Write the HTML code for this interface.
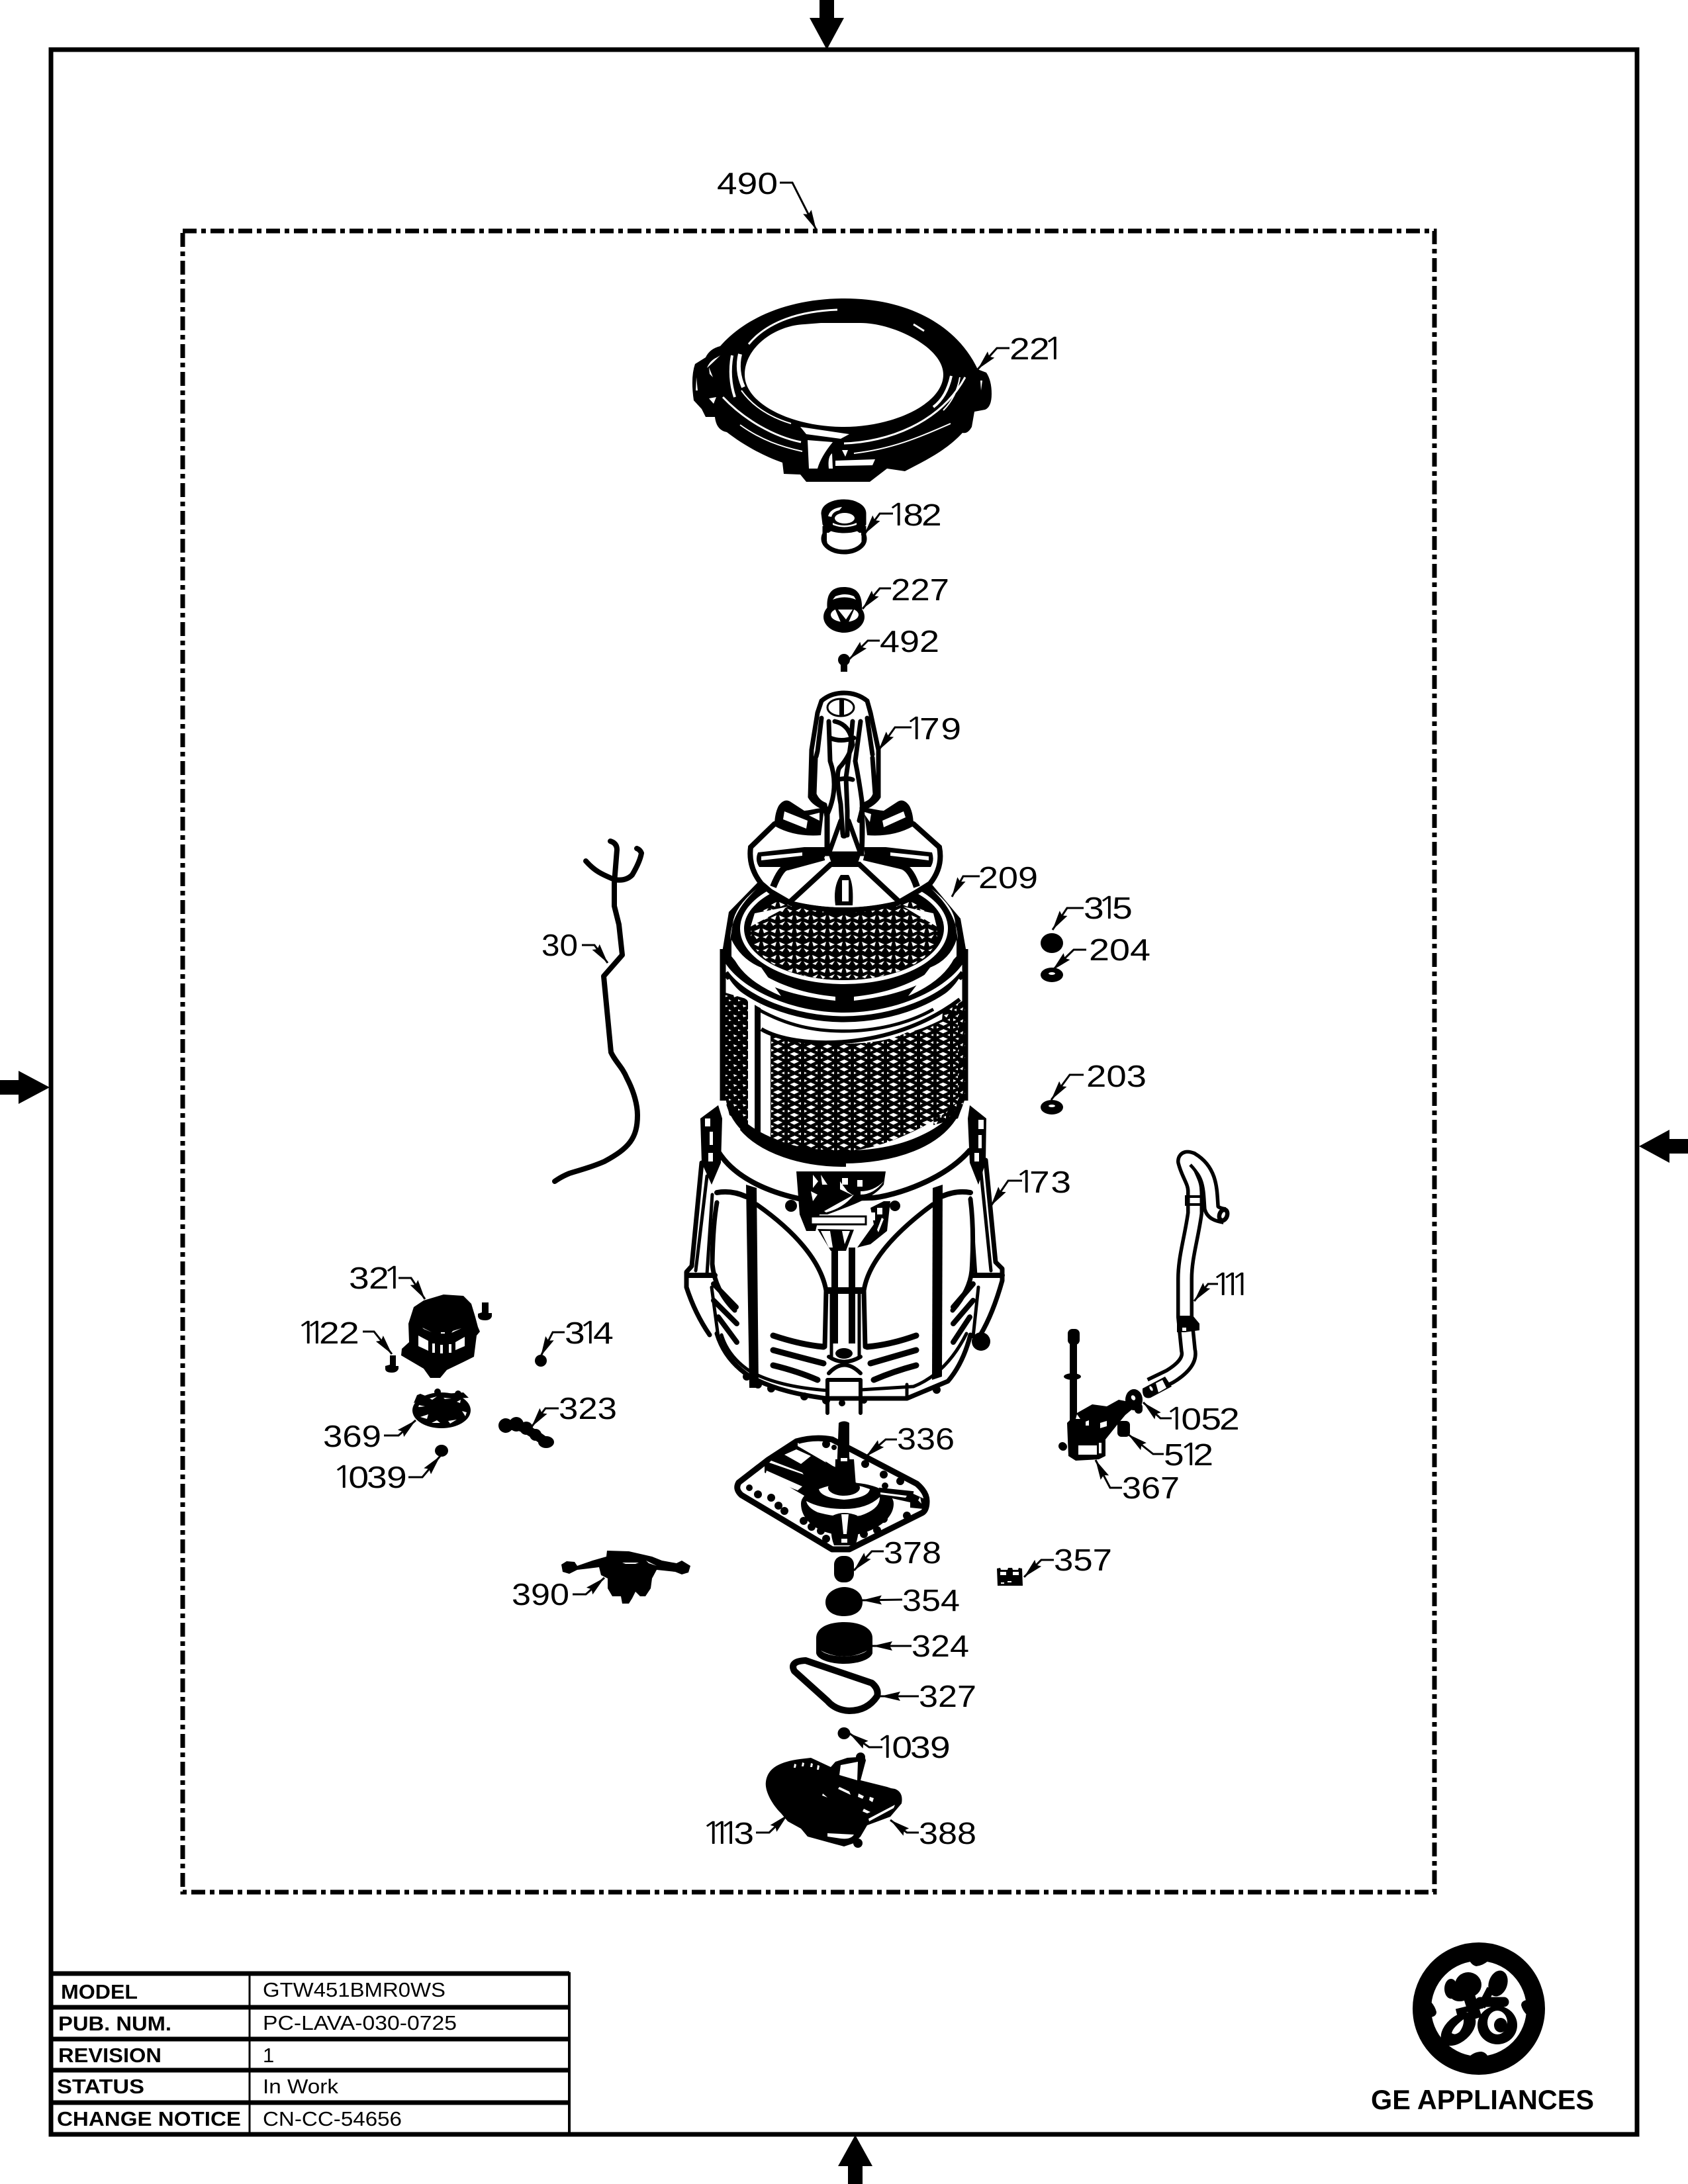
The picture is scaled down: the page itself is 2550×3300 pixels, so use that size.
<!DOCTYPE html>
<html><head><meta charset="utf-8"><style>
html,body{margin:0;padding:0;background:#fff}
svg{display:block}
.l{font-family:"Liberation Sans",sans-serif;font-size:46px;fill:#000}
.o{font-family:"NanumGothic","Liberation Sans",sans-serif}
.b{font-family:"Liberation Sans",sans-serif;font-size:31px;font-weight:bold;fill:#000}
.v{font-family:"Liberation Sans",sans-serif;font-size:31px;fill:#000}
.ld{fill:none;stroke:#000;stroke-width:3;marker-end:url(#ah)}
.s{fill:none;stroke:#000;stroke-linecap:round;stroke-linejoin:round}
</style></head><body>
<svg xmlns="http://www.w3.org/2000/svg" width="2550" height="3300" viewBox="0 0 2550 3300">
<defs>
<marker id="ah" markerUnits="userSpaceOnUse" markerWidth="34" markerHeight="18" refX="30" refY="9" orient="auto">
<path d="M0,2 L30,9 L0,16 L4,9 z" fill="#000"/></marker>
<pattern id="mf" width="25" height="23" patternUnits="userSpaceOnUse">
<rect width="25" height="23" fill="#fff"/>
<path d="M12.5,0V23" stroke="#000" stroke-width="5"/>
<path d="M0,0C9,4 16,7 25,11.5C16,15 9,19 0,23" fill="none" stroke="#000" stroke-width="5"/>
<path d="M25,0C16,4 9,7 0,11.5C9,15 16,19 25,23" fill="none" stroke="#000" stroke-width="4.5"/>
</pattern>
<pattern id="mt" width="25" height="20" patternUnits="userSpaceOnUse">
<rect width="25" height="20" fill="#000"/>
<path d="M2,3L11,7L4,10z M23,3L14,7L21,10z M2,16L11,12L7,18z M22,16L14,13L18,19z" fill="#fff"/>
</pattern>
<pattern id="ms" width="14" height="15" patternUnits="userSpaceOnUse">
<rect width="14" height="15" fill="#000"/>
<path d="M2,3L8,5L3,7z M9,10L13,12L9,13z" fill="#fff"/>
</pattern>
<pattern id="mr" width="16" height="18" patternUnits="userSpaceOnUse">
<rect width="16" height="18" fill="#000"/>
<path d="M2,4L9,2L6,8z M10,13L15,10L14,15z M1,14L5,12L5,16z" fill="#fff"/>
</pattern>
</defs>

<!-- frame -->
<rect x="77" y="75" width="2396" height="3150" fill="none" stroke="#000" stroke-width="7"/>
<path d="M1238,0H1260V27H1275L1249,75L1223,27H1238z"/>
<path d="M1281,3300H1303V3273H1318L1292,3226L1266,3273H1281z"/>
<path d="M0,1632H28V1618L75,1643L28,1668V1654H0z"/>
<path d="M2550,1721H2522V1707L2476,1732L2522,1757V1743H2550z"/>

<!-- dash-dot region -->
<rect x="276" y="349" width="1891" height="2510" fill="none" stroke="#000" stroke-width="7" stroke-dasharray="21 7 7 7"/>

<!-- 221 ring -->
<path d="M1088,523C1130,475 1200,451 1276,451C1370,451 1445,490 1477,558L1490,563Q1498,575 1498,595Q1498,615 1488,619L1472,622L1468,645Q1462,656 1454,654C1430,680 1400,695 1367,712L1340,708L1314,728H1218L1209,717L1184,716L1182,699C1150,688 1120,670 1098,653Q1082,650 1080,630L1066,630L1060,618L1048,605Q1043,570 1050,550L1066,540Q1072,527 1088,523z"/>
<path d="M1125,566C1125,525 1170,492 1215,490L1240,488H1300C1350,488 1425,525 1425,566C1425,610 1350,645 1275,645C1195,645 1125,610 1125,566z" fill="#fff"/>
<g fill="none" stroke="#fff" stroke-width="3">
<path d="M1131,520C1160,485 1210,470 1265,468"/>
<path d="M1380,490L1396,500"/>
<path d="M1106,537Q1100,570 1110,600" stroke-width="4"/>
<path d="M1118,535Q1112,560 1123,585" stroke-width="6"/>
<path d="M1437,568Q1430,600 1410,615" stroke-width="4"/>
<path d="M1450,570Q1445,600 1425,620" stroke-width="2"/>
<path d="M1092,600C1125,635 1170,660 1210,668" stroke-width="3"/>
<path d="M1118,642C1150,665 1180,675 1212,682" stroke-width="2"/>
<path d="M1275,670C1340,668 1420,640 1458,570" stroke-width="3"/>
<path d="M1290,685C1350,678 1390,660 1436,640" stroke-width="2"/>
<path d="M1120,590Q1145,625 1195,640" stroke-width="2"/>
</g>
<path d="M1209,645L1283,656L1270,663L1218,656z" fill="#fff"/>
<path d="M1220,665L1258,668Q1240,690 1235,708H1222z" fill="#fff"/>
<path d="M1262,696L1322,694L1318,703L1262,704z" fill="#fff"/>
<path d="M1272,680H1281L1277,690z" fill="#fff"/>
<path d="M1252,708Q1250,690 1257,685L1258,708z" fill="#fff"/>
<path d="M1071,555L1077,570L1072,565z M1052,570L1054,590L1051,590z M1078,610L1071,602L1082,600z M1083,540Q1072,545 1068,556Q1077,548 1088,537z M1481,575L1484,575L1482,590z" fill="#fff"/>

<!-- 182 -->
<ellipse cx="1275" cy="814" rx="31" ry="20" fill="#fff" stroke="#000" stroke-width="7"/>
<path d="M1246,795V820M1305,795V820" stroke="#000" stroke-width="7"/>
<path d="M1249,805H1301V818H1249z" fill="#fff"/>
<path d="M1242,776C1242,762 1260,756 1275,756C1292,756 1307,764 1307,776V792C1300,808 1250,808 1244,792z" stroke="#000" stroke-width="3"/>
<path d="M1251,780Q1254,768 1272,766L1268,771Q1258,773 1256,781z" fill="#fff"/>
<ellipse cx="1276" cy="783" rx="15" ry="8" fill="#fff"/>
<path d="M1258,790Q1275,798 1294,790L1294,793Q1275,800 1258,793z" fill="#fff"/>

<!-- 227 -->
<ellipse cx="1275" cy="932" rx="31" ry="24" fill="#000"/>
<path d="M1250,925C1248,905 1250,887 1275,887C1300,887 1303,905 1302,925z"/>
<ellipse cx="1276" cy="929" rx="21" ry="11" fill="#fff"/>
<path d="M1262,901Q1277,895 1290,901L1293,906Q1276,899 1258,906z" fill="#fff"/>
<path d="M1258,912L1294,912L1282,940H1270z" fill="#000"/>
<path d="M1266,921H1288L1278,936z" fill="#fff"/>
<!-- 492 -->
<circle cx="1275" cy="997" r="9"/><rect x="1270" y="1000" width="10" height="15"/>

<!-- 30 hose -->
<g class="s" stroke-width="8">
<path d="M922,1271Q932,1274 932,1284L928,1334V1369L935,1397L940,1443L912,1475L923,1590C930,1605 940,1612 947,1629C958,1650 963,1670 963,1685C963,1720 950,1735 913,1755C890,1765 875,1768 860,1773Q848,1778 838,1785"/>
<path d="M885,1301C900,1318 912,1322 928,1329Q945,1332 955,1322C965,1305 968,1295 969,1289Q967,1284 962,1282"/>
</g>

<!-- 173 basket -->
<g class="s" stroke-width="7">
<path d="M1060,1757L1045,1913L1037,1922V1945Q1050,1985 1072,2017"/>
<path d="M1489,1753L1504,1907L1514,1917V1935Q1500,1985 1481,2017"/>
<path d="M1083,2015Q1095,2055 1133,2080C1170,2100 1210,2108 1248,2113H1370L1432,2087Q1455,2060 1466,2017"/>
<path d="M1090,2017Q1100,2050 1133,2072C1165,2090 1210,2098 1250,2101M1300,2100L1380,2095Q1430,2075 1460,2015" stroke-width="5"/>
<path d="M1068,1777L1051,1920" stroke-width="5"/>
<path d="M1076,1805L1068,1925" stroke-width="5"/>
<path d="M1083,1817Q1077,1850 1076,1910Q1080,1950 1110,1980"/>
<path d="M1481,1763L1497,1920" stroke-width="5"/>
<path d="M1466,1810L1474,1927" stroke-width="5"/>
<path d="M1466,1812Q1472,1860 1468,1920Q1465,1950 1439,1980"/>
<path d="M1083,1802Q1105,1798 1127,1808M1466,1802Q1445,1798 1422,1808" stroke-width="8"/>
<path d="M1040,1927H1080M1514,1927H1470" stroke-width="8"/>
<path d="M1075,1945L1085,2020M1478,1945L1470,2020" stroke-width="5"/>
<path d="M1078,1940L1112,1975M1078,1965L1113,2000M1085,1990L1113,2028M1470,1940L1440,1975M1470,1965L1440,2000M1465,1990L1440,2028" stroke-width="8"/>
</g>
<path d="M1058,1690L1085,1670L1091,1690L1089,1757L1075,1790L1060,1757z"/>
<path d="M1065,1690h8v12h-8z M1070,1742h7v13h-7z M1072,1710h5v20h-5z" fill="#fff"/>
<path d="M1490,1690L1465,1670L1462,1690L1465,1757L1478,1790L1489,1757z"/>
<path d="M1478,1692h8v14h-8z M1472,1742h7v13h-7z M1478,1715h5v20h-5z" fill="#fff"/>
<path d="M1085,1740C1110,1780 1160,1800 1202,1810Q1220,1815 1236,1812L1315,1810C1335,1810 1420,1790 1466,1737" fill="none" stroke="#000" stroke-width="8"/>
<path d="M1127,1790L1143,1795L1146,2097H1132z"/>
<path d="M1409,1795L1424,1790L1423,2080L1408,2085z"/>
<g class="s" stroke-width="7">
<path d="M1143,1820C1200,1860 1240,1905 1248,1950L1246,2035"/>
<path d="M1409,1820C1355,1860 1312,1905 1305,1950L1307,2035"/>
<path d="M1256,1950V2050M1298,1950V2050" stroke-width="5"/>
<path d="M1261,1885V2030M1287,1885V2030" stroke-width="10" stroke-linecap="butt"/>
<path d="M1250,1950H1303" stroke-width="10" stroke-linecap="butt"/>
<path d="M1168,2018Q1210,2032 1244,2035M1168,2040Q1205,2050 1244,2060M1168,2063Q1205,2072 1235,2085" stroke-width="9"/>
<path d="M1384,2018Q1345,2032 1310,2035M1384,2040Q1350,2050 1315,2060M1384,2063Q1350,2072 1320,2085" stroke-width="9"/>
<path d="M1250,2085H1300V2135M1250,2085V2135M1252,2050Q1275,2065 1300,2050M1252,2075Q1275,2050 1300,2075" stroke-width="6"/>
<path d="M1370,2092V2110" stroke-width="5"/>
</g>
<path d="M1262,2045a13,8 0 1,0 26,0a13,8 0 1,0 -26,0z"/>
<path d="M1203,1770H1338L1335,1790C1320,1810 1290,1820 1250,1835H1238L1232,1860H1218L1208,1835z"/>
<path d="M1225,1838H1308V1850H1225z" fill="#fff" stroke="#000" stroke-width="3"/>
<path d="M1235,1857L1290,1858L1278,1890H1255z" fill="#000"/>
<path d="M1240,1860L1252,1885H1258L1254,1860z M1272,1860H1284L1276,1880z" fill="#fff"/>
<path d="M1228,1775L1236,1785L1228,1795z M1225,1800L1235,1805L1228,1815z M1240,1775L1250,1790L1242,1790z M1269,1785L1280,1800L1290,1807L1269,1797z M1272,1780h9v10h-9z M1295,1783h8v10h-8z M1300,1800Q1320,1800 1335,1785Q1320,1805 1300,1805z M1245,1830L1290,1805Q1275,1825 1248,1832z" fill="#fff"/>
<path d="M1315,1825L1335,1815L1345,1815L1340,1860L1315,1880L1295,1885L1320,1850z"/>
<path d="M1325,1825h8v10h-8z M1316,1832h6v12h-6z M1325,1858L1332,1840L1335,1842L1327,1862z" fill="#fff"/>
<circle cx="1195" cy="1822" r="9"/><circle cx="1352" cy="1822" r="8"/>
<circle cx="1482" cy="2027" r="14"/>
<g fill="#000"><circle cx="1128" cy="2080" r="6"/><circle cx="1145" cy="2092" r="6"/><circle cx="1165" cy="2098" r="6"/><circle cx="1215" cy="2110" r="6"/><circle cx="1248" cy="2116" r="6"/><circle cx="1305" cy="2116" r="5"/><circle cx="1272" cy="2120" r="5"/><circle cx="1415" cy="2100" r="6"/></g>

<!-- tub -->
<path d="M1092,1440C1120,1460 1430,1460 1458,1440V1663Q1440,1750 1275,1760Q1110,1750 1092,1663z" fill="#fff"/>
<path d="M1092,1434V1663" stroke="#000" stroke-width="9"/>
<path d="M1458,1434V1663" stroke="#000" stroke-width="9"/>
<path d="M1096,1500L1130,1510V1700L1102,1685L1096,1660z" fill="url(#ms)"/>
<path d="M1424,1530L1458,1510V1660L1447,1690L1410,1700z" fill="url(#mr)"/>
<path d="M1164,1561C1220,1580 1320,1585 1370,1560C1400,1555 1430,1535 1447,1530V1665C1420,1695 1330,1740 1270,1740C1220,1740 1180,1730 1164,1719z" fill="url(#mf)"/>
<path d="M1144.5,1518V1716" stroke="#000" stroke-width="9"/>
<path d="M1150,1555C1200,1585 1345,1590 1450,1510" fill="none" stroke="#000" stroke-width="6"/>
<path d="M1100,1668C1120,1735 1210,1755 1275,1755C1340,1755 1430,1735 1452,1668C1430,1715 1340,1745 1275,1745C1210,1745 1120,1715 1100,1668z M1120,1705C1170,1745 1230,1750 1275,1750L1275,1760C1210,1760 1150,1740 1120,1705z" stroke="#000" stroke-width="6"/>
<path d="M1145,1715C1190,1735 1230,1741 1275,1741C1320,1741 1370,1733 1412,1708" fill="none" stroke="#000" stroke-width="5"/>

<!-- tub top rim -->
<path d="M1090,1445L1101,1378L1145,1333L1405,1333L1451,1388L1461,1445C1440,1490 1360,1530 1275,1530C1190,1530 1110,1490 1090,1445z" fill="#000"/>
<path d="M1096,1470C1125,1510 1200,1540 1275,1540C1350,1540 1425,1510 1455,1470" fill="none" stroke="#000" stroke-width="9"/>
<path d="M1100,1480C1125,1520 1200,1550 1275,1550C1350,1550 1425,1520 1450,1480" fill="none" stroke="#fff" stroke-width="4"/>
<path d="M1145,1525C1190,1550 1230,1558 1275,1558C1320,1558 1370,1548 1410,1525" fill="none" stroke="#000" stroke-width="5"/>
<path d="M1103,1420C1104,1385 1125,1360 1143,1343Q1110,1370 1107,1395z" fill="#fff"/>
<path d="M1447,1420C1446,1385 1425,1360 1407,1343Q1442,1370 1443,1395z" fill="#fff"/>
<path d="M1105,1440Q1120,1480 1180,1505L1150,1462Q1120,1450 1105,1420z" fill="#fff"/>
<path d="M1445,1440Q1430,1480 1372,1505L1405,1462Q1435,1450 1445,1420z" fill="#fff"/>
<path d="M1105,1445C1140,1490 1200,1505 1262,1512L1262,1506C1200,1500 1150,1480 1105,1435z" fill="#fff"/>
<path d="M1290,1512C1350,1505 1405,1490 1445,1445L1445,1435C1400,1480 1350,1500 1290,1506z" fill="#fff"/>
<ellipse cx="1275" cy="1403" rx="157" ry="84" fill="#fff"/>
<ellipse cx="1275" cy="1403" rx="151" ry="78" fill="#000"/>
<ellipse cx="1275" cy="1411" rx="141" ry="70" fill="url(#mt)"/>
<path d="M1134,1400L1190,1370L1140,1380z M1415,1400L1365,1370L1410,1380z" fill="#fff"/>

<!-- disk & agitator -->
<path d="M1170,1245L1134,1280Q1130,1310 1150,1335L1164,1347L1195,1365Q1275,1385 1355,1365L1386,1347L1405,1335Q1425,1310 1419,1280L1380,1245Q1275,1200 1170,1245z" fill="#fff" stroke="#000" stroke-width="8"/>
<path d="M1199,1362L1258,1310H1294L1352,1362Q1275,1380 1199,1362z" fill="#fff"/>
<path d="M1192,1364L1255,1306H1298L1360,1364" fill="none" stroke="#000" stroke-width="8"/>
<path d="M1270,1322H1282Q1290,1335 1288,1368L1262,1368Q1258,1340 1270,1322z"/>
<rect x="1272" y="1330" width="10" height="32" fill="#fff"/>
<path d="M1176,1218Q1185,1205 1195,1212L1215,1225L1245,1222L1240,1262Q1200,1265 1170,1248Q1170,1230 1176,1218z"/>
<path d="M1374,1218Q1365,1205 1355,1212L1335,1225L1305,1222L1310,1262Q1350,1265 1380,1248Q1380,1230 1374,1218z"/>
<path d="M1185,1226L1220,1240L1218,1252L1183,1238z M1365,1226L1333,1240L1335,1250L1368,1235z M1222,1232L1238,1228V1240z M1316,1230L1303,1226L1314,1242z" fill="#fff"/>
<path d="M1145,1288L1215,1280L1248,1280L1246,1295L1200,1310Q1170,1310 1147,1310Q1140,1300 1145,1288z"/>
<path d="M1408,1288L1338,1280L1305,1280L1307,1295L1350,1310Q1385,1310 1406,1310Q1412,1300 1408,1288z"/>
<path d="M1150,1294L1212,1288V1293L1150,1300z M1403,1294L1345,1288V1293L1403,1300z" fill="#fff"/>
<path d="M1168,1340Q1180,1310 1190,1310L1245,1295M1385,1340Q1375,1310 1360,1308L1305,1295" fill="none" stroke="#000" stroke-width="10"/>
<path d="M1198,1325Q1205,1315 1225,1308L1215,1322z M1355,1325Q1350,1315 1330,1308L1340,1322z" fill="#fff"/>
<path d="M1235,1077L1241,1059Q1255,1047 1275,1047Q1295,1047 1310,1059L1315,1077L1327,1133L1327,1204Q1320,1215 1302,1222L1302,1290H1249L1249,1222Q1230,1215 1224,1204L1226,1133z" fill="#fff" stroke="#000" stroke-width="7"/>
<ellipse cx="1270" cy="1069" rx="20" ry="13" fill="#fff" stroke="#000" stroke-width="3"/>
<path d="M1268,1056h7v26h-7z"/>
<g class="s" stroke-width="7">
<path d="M1241,1085L1235,1135L1233,1143M1310,1085L1318,1140"/>
<path d="M1232,1145L1230,1200Q1235,1212 1246,1216L1250,1240M1318,1145L1322,1200Q1318,1212 1304,1216L1298,1240"/>
<path d="M1252,1090L1254,1150Q1268,1190 1250,1230V1288"/>
<path d="M1300,1090L1292,1150Q1298,1180 1302,1210Q1304,1250 1302,1288"/>
<path d="M1261,1090Q1285,1095 1288,1125Q1282,1145 1268,1160Q1262,1170 1270,1215L1273,1260"/>
<path d="M1288,1090L1285,1125L1278,1175L1280,1225L1280,1262"/>
<path d="M1254,1115Q1270,1122 1290,1115"/>
<path d="M1265,1178Q1280,1175 1288,1178"/>
<path d="M1270,1240L1252,1290M1282,1240L1300,1290"/>
</g>
<ellipse cx="1275" cy="1263" rx="5" ry="4"/>
<path d="M1252,1292H1300L1296,1304H1256z" fill="#000"/>

<!-- washers -->
<ellipse cx="1589" cy="1425" rx="17" ry="15"/>
<ellipse cx="1589" cy="1473" rx="17" ry="11"/><ellipse cx="1589" cy="1471" rx="5" ry="2" fill="#fff"/>
<ellipse cx="1589" cy="1673" rx="17" ry="11"/><ellipse cx="1589" cy="1671" rx="5" ry="2" fill="#fff"/>

<!-- 111 hose -->
<path d="M1850,1837C1838,1835 1832,1832 1830,1825C1828,1800 1830,1770 1800,1752Q1790,1748 1790,1755C1795,1775 1805,1785 1805,1800V1833C1800,1870 1790,1900 1790,1932V1990L1795,2040Q1800,2060 1767,2080L1738,2094" fill="none" stroke="#000" stroke-width="26" stroke-linejoin="round"/>
<path d="M1850,1837C1838,1835 1832,1832 1830,1825C1828,1800 1830,1770 1800,1752Q1790,1748 1790,1755C1795,1775 1805,1785 1805,1800V1833C1800,1870 1790,1900 1790,1932V1990L1795,2040Q1800,2060 1767,2080L1738,2094" fill="none" stroke="#fff" stroke-width="15" stroke-linejoin="round"/>
<path d="M1798,1760C1808,1770 1815,1780 1815,1805L1817,1822" fill="none" stroke="#000" stroke-width="5"/>
<ellipse cx="1848" cy="1836" rx="9" ry="12" transform="rotate(20 1848 1836)"/><ellipse cx="1848" cy="1836" rx="2.5" ry="5" transform="rotate(20 1848 1836)" fill="#fff"/>
<path d="M1792,1808H1816V1820H1792z" fill="none" stroke="#000" stroke-width="4"/>
<path d="M1778,1988H1802L1812,2000L1812,2010L1790,2013H1778z"/>
<path d="M1786,2006h6v5h-6z" fill="#fff"/>
<path d="M1726,2098L1760,2080L1770,2095L1738,2112Q1725,2115 1726,2098z"/>
<path d="M1746,2090L1756,2085L1762,2097L1750,2104z" fill="#fff"/>
<ellipse cx="1739" cy="2098" rx="2" ry="4" fill="#fff" transform="rotate(-30 1739 2098)"/>

<!-- 367 valve -->
<rect x="1616" y="2012" width="11" height="135"/><rect x="1613" y="2008" width="18" height="24" rx="7"/>
<ellipse cx="1620" cy="2080" rx="13" ry="5"/>
<path d="M1612,2150L1627,2135L1650,2122L1672,2125L1690,2115L1705,2118L1712,2128L1700,2138L1690,2150L1670,2175L1670,2200L1660,2205L1625,2207L1614,2200z"/>
<path d="M1629,2184h28v14h-28z M1660,2180h4v16h-4z" fill="#fff"/>
<path d="M1662,2150L1672,2147V2155L1662,2158z M1640,2148L1645,2146V2154H1640z M1627,2137L1632,2144H1625z" fill="#fff"/>
<circle cx="1605" cy="2185" r="6"/><rect x="1600" y="2180" width="12" height="12" rx="6"/>
<rect x="1688" y="2147" width="19" height="24" rx="6"/>
<ellipse cx="1713" cy="2115" rx="13" ry="16"/><ellipse cx="1712" cy="2112" rx="3" ry="4" fill="#fff" transform="rotate(-30 1712 2112)"/>
<rect x="1714" y="2120" width="12" height="16" rx="6"/>

<!-- 321 motor -->
<path d="M617,2000L625,1975L640,1965L670,1956L700,1958L712,1970L718,1990L722,2005L725,2012L720,2018L716,2050L700,2058L675,2070L665,2082H650L640,2068L606,2048L607,2038L618,2028z"/>
<path d="M632,2018L647,2026V2041L632,2034z M688,2028L702,2020V2034L688,2040z M653,2030h4v14h-4z M665,2032h4v13h-4z M678,2031h4v13h-4z M638,2006L652,2013L640,2008z M682,2014L697,2007L684,2011z M666,2013h6v2h-6z" fill="#fff"/>
<path d="M728,1968h10v16h5v5q-2,6 -10,6q-10,0 -11,-6v-4l6,-2z"/>
<path d="M589,2048h9v16h4v4q-2,6 -10,6q-10,0 -10,-6v-4l7,-2z"/>
<circle cx="817" cy="2056" r="9"/>
<!-- 369 -->
<ellipse cx="667" cy="2131" rx="44" ry="27"/>
<path d="M630,2108L635,2106L650,2112L625,2120z"/><circle cx="661" cy="2103" r="5"/><circle cx="692" cy="2106" r="5"/>
<path d="M645,2108L700,2104L708,2112L640,2116z"/>
<path d="M649,2113L660,2110L653,2115z M670,2112L682,2113L672,2114z M690,2118L696,2115L695,2120z M633,2123L642,2125L632,2126z M698,2132L705,2134L703,2140z M635,2141L647,2137L645,2144z M652,2150L665,2150L660,2146z M677,2147L690,2145L680,2151z" fill="#fff"/>
<!-- 1039 ball -->
<ellipse cx="667" cy="2192" rx="10" ry="9"/>
<!-- 323 -->
<path d="M762,2155L780,2153L796,2160L812,2170L826,2180" fill="none" stroke="#000" stroke-width="14" stroke-linecap="round"/>
<g><ellipse cx="764" cy="2154" rx="11" ry="11"/><ellipse cx="780" cy="2152" rx="11" ry="11"/><ellipse cx="795" cy="2158" rx="10" ry="10"/><ellipse cx="809" cy="2168" rx="9" ry="9"/><ellipse cx="825" cy="2179" rx="12" ry="9"/></g>

<!-- 390 -->
<path d="M848,2364L856,2359L868,2360L872,2366L895,2358L916,2352L917,2343L950,2344L985,2352L1000,2358L1022,2362L1030,2358L1043,2366L1040,2376L1030,2379L1020,2375L992,2372L985,2385L983,2400L975,2412L967,2412L960,2405L955,2415L950,2423H940L938,2412L925,2412L918,2400L918,2385L908,2380L905,2368L872,2372L860,2378L850,2375z"/>
<path d="M940,2361H965L960,2363H945z M976,2358L992,2366L980,2362z" fill="#fff"/>

<!-- 357 -->
<path d="M1506,2370l5,-1l1,3h10l1,-3h6l1,3h8l1,-3l5,1l1,26h-38z"/>
<path d="M1511,2375h9v5h-9z M1530,2375h9v5h-9z M1512,2391h5v2h-5z M1522,2389h6v2h-6z" fill="#fff"/>

<!-- 336 gearbox -->
<path d="M1116,2240L1160,2206L1203,2178Q1230,2170 1257,2175L1385,2242Q1400,2255 1400,2268Q1400,2282 1393,2286L1333,2316L1283,2341H1257L1177,2293L1120,2259Q1110,2250 1116,2240z" fill="#fff" stroke="#000" stroke-width="9" stroke-linejoin="round"/>
<path d="M1155,2215L1203,2180L1258,2215L1280,2225L1270,2240L1240,2255L1215,2260L1155,2225z"/>
<path d="M1185,2198L1203,2190L1225,2200L1210,2212z M1165,2207L1212,2225L1214,2228L1162,2210z M1158,2222L1212,2246L1205,2252L1155,2232z M1205,2180L1245,2205L1248,2210L1205,2185z" fill="#fff"/>
<path d="M1210,2272A70,32 0 0 1 1350,2272C1350,2300 1310,2320 1280,2320C1240,2320 1210,2300 1210,2272z"/>
<path d="M1237,2250Q1275,2235 1314,2250Q1312,2263 1275,2266Q1240,2263 1237,2250z M1218,2268Q1240,2280 1275,2280Q1310,2280 1329,2262Q1330,2280 1300,2290Q1270,2295 1235,2285Q1220,2278 1218,2268z" fill="#fff"/>
<ellipse cx="1275" cy="2248" rx="24" ry="12"/>
<path d="M1267,2150Q1275,2145 1283,2150V2200L1287,2250H1263L1265,2200z"/>
<path d="M1262,2205h28l3,40h-32z"/>
<rect x="1270" y="2203" width="10" height="5" fill="#fff"/>
<path d="M1258,2290Q1275,2282 1295,2290Q1300,2315 1292,2335H1260Q1252,2315 1258,2290z"/>
<path d="M1271,2288h11l-3,30h-5z M1271,2325h9v6h-9z" fill="#fff"/>
<path d="M1330,2250L1378,2255L1375,2268L1330,2258z" stroke="#000" stroke-width="4"/>
<path d="M1330,2255L1370,2260L1368,2263L1330,2258z" fill="#fff"/>
<path d="M1375,2255L1397,2265L1395,2280L1375,2278z"/>
<path d="M1390,2262L1392,2272L1387,2267z" fill="#fff"/>
<g fill="#000"><circle cx="1132" cy="2248" r="5"/><circle cx="1145" cy="2258" r="6"/><circle cx="1165" cy="2263" r="6"/><circle cx="1176" cy="2275" r="6"/><circle cx="1185" cy="2283" r="6"/><circle cx="1214" cy="2298" r="6"/><circle cx="1226" cy="2307" r="6"/><circle cx="1240" cy="2313" r="6"/><circle cx="1248" cy="2325" r="6"/>
<circle cx="1248" cy="2182" r="6"/><circle cx="1260" cy="2187" r="4"/><circle cx="1307" cy="2212" r="6"/><circle cx="1335" cy="2228" r="6"/><circle cx="1360" cy="2238" r="6"/><circle cx="1337" cy="2245" r="5"/>
<circle cx="1370" cy="2290" r="6"/><circle cx="1335" cy="2295" r="6"/><circle cx="1325" cy="2312" r="6"/><circle cx="1305" cy="2318" r="6"/></g>

<!-- 378 354 324 -->
<rect x="1260" y="2351" width="30" height="40" rx="13"/>
<path d="M1247,2421C1247,2405 1265,2398 1275,2398C1288,2398 1303,2405 1303,2421C1303,2435 1290,2442 1275,2442C1260,2442 1247,2435 1247,2421z"/>
<path d="M1233,2475C1233,2460 1250,2451 1275,2451C1300,2451 1318,2460 1318,2475V2498C1315,2508 1295,2514 1275,2514C1255,2514 1235,2508 1233,2498z"/>
<path d="M1240,2494Q1275,2512 1310,2494Q1300,2502 1275,2503Q1250,2502 1240,2494z" fill="#fff"/>
<!-- 327 belt -->
<path d="M1200,2525Q1192,2510 1217,2509L1317,2543Q1328,2552 1325,2563Q1310,2585 1283,2585Q1262,2584 1250,2570z" fill="none" stroke="#000" stroke-width="10" stroke-linejoin="round"/>
<!-- 1039 ball -->
<ellipse cx="1275" cy="2619" rx="9.5" ry="9"/>
<!-- 388 / 1113 -->
<path d="M1157,2692C1160,2670 1180,2662 1208,2658L1225,2656L1255,2670L1262,2662L1280,2656L1295,2655L1298,2650H1305L1308,2660L1300,2690L1340,2700L1346,2702L1352,2703Q1365,2708 1362,2725L1345,2745L1310,2758L1300,2775L1290,2785L1275,2790L1260,2786L1220,2775L1210,2763L1190,2752L1180,2740C1165,2725 1155,2705 1157,2692z"/>
<path d="M1270,2667L1296,2662L1295,2690L1268,2682z M1266,2703L1285,2712L1283,2707L1268,2700z M1297,2710L1305,2714L1303,2718L1296,2715z M1314,2715L1320,2717L1318,2723L1313,2720z M1305,2733L1315,2738L1310,2740L1303,2737z M1312,2748L1352,2727L1350,2732L1313,2752z M1250,2770L1290,2772Q1285,2780 1270,2778L1250,2775z M1243,2710L1250,2716L1242,2713z M1200,2665l3,1l-1,5h-3z M1212,2663l3,1l-1,5h-3z M1225,2664l3,1l-1,5h-3z M1235,2667l3,1l-1,6h-3z" fill="#fff"/>
<circle cx="1300" cy="2655" r="7"/><circle cx="1296" cy="2785" r="7"/>
<circle cx="1195" cy="2742" r="6"/>

<!-- leaders -->
<polyline class="ld" points="1178,276 1197,276 1233,347"/>
<polyline class="ld" points="1525,526 1506,526 1477,558"/>
<polyline class="ld" points="1349,776 1329,776 1306,807"/>
<polyline class="ld" points="1346,889 1329,889 1303,920"/>
<polyline class="ld" points="1329,968 1311,968 1283,996"/>
<polyline class="ld" points="1377,1099 1352,1099 1327,1134"/>
<polyline class="ld" points="1480,1324 1455,1324 1438,1355"/>
<polyline class="ld" points="1544,1784 1523,1784 1497,1822"/>
<polyline class="ld" points="1840,1940 1825,1940 1804,1966"/>
<polyline class="ld" points="1770,2143 1753,2143 1727,2119"/>
<polyline class="ld" points="1758,2197 1742,2197 1704,2167"/>
<polyline class="ld" points="1695,2248 1677,2248 1655,2206"/>
<polyline class="ld" points="1592,2357 1573,2357 1547,2383"/>
<polyline class="ld" points="1637,1372 1612,1372 1590,1405"/>
<polyline class="ld" points="1641,1435 1622,1435 1590,1466"/>
<polyline class="ld" points="1637,1624 1616,1624 1588,1662"/>
<polyline class="ld" points="879,1428 898,1428 918,1455"/>
<polyline class="ld" points="602,1931 621,1931 642,1963"/>
<polyline class="ld" points="548,2012 565,2012 592,2046"/>
<polyline class="ld" points="853,2013 835,2013 817,2049"/>
<polyline class="ld" points="844,2128 824,2128 803,2156"/>
<polyline class="ld" points="580,2169 602,2169 628,2146"/>
<polyline class="ld" points="617,2232 638,2232 665,2200"/>
<polyline class="ld" points="865,2409 885,2409 913,2384"/>
<polyline class="ld" points="1355,2175 1338,2175 1308,2201"/>
<polyline class="ld" points="1335,2344 1317,2344 1290,2373"/>
<polyline class="ld" points="1363,2417 1302,2418"/>
<polyline class="ld" points="1377,2487 1318,2487"/>
<polyline class="ld" points="1388,2563 1330,2563"/>
<polyline class="ld" points="1333,2640 1313,2640 1283,2619"/>
<polyline class="ld" points="1142,2769 1162,2769 1190,2742"/>
<polyline class="ld" points="1388,2769 1370,2769 1345,2750"/>

<!-- labels -->
<g class="l">
<text x="1083" y="293" textLength="92" lengthAdjust="spacingAndGlyphs">490</text>
<text transform="translate(1525 543) scale(1.2 1)" x="0 25 42" y="0">22<tspan class="o">1</tspan></text>
<text transform="translate(1350 794) scale(1.2 1)" x="-9 12 35" y="0"><tspan class="o">1</tspan>82</text>
<text x="1346" y="907" textLength="88" lengthAdjust="spacingAndGlyphs">227</text>
<text x="1329" y="985" textLength="90" lengthAdjust="spacingAndGlyphs">492</text>
<text transform="translate(1377 1117) scale(1.2 1)" x="-9 10 37" y="0"><tspan class="o">1</tspan>79</text>
<text x="1478" y="1342" textLength="90" lengthAdjust="spacingAndGlyphs">209</text>
<text transform="translate(1637 1388) scale(1.2 1)" x="0 17 36" y="0">3<tspan class="o">1</tspan>5</text>
<text x="1645" y="1451" textLength="93" lengthAdjust="spacingAndGlyphs">204</text>
<text x="1641" y="1642" textLength="91" lengthAdjust="spacingAndGlyphs">203</text>
<text x="818" y="1444" textLength="55" lengthAdjust="spacingAndGlyphs">30</text>
<text transform="translate(1543 1802) scale(1.2 1)" x="-9 10 37" y="0"><tspan class="o">1</tspan>73</text>
<text transform="translate(1840 1957) scale(1.2 1)" x="-9 3 15" y="0"><tspan class="o">111</tspan></text>
<text transform="translate(1770 2160) scale(1.2 1)" x="-9 12 37 60" y="0"><tspan class="o">1</tspan>052</text>
<text transform="translate(1758 2214) scale(1.2 1)" x="0 19 37" y="0">5<tspan class="o">1</tspan>2</text>
<text x="1695" y="2264" textLength="87" lengthAdjust="spacingAndGlyphs">367</text>
<text x="1592" y="2373" textLength="88" lengthAdjust="spacingAndGlyphs">357</text>
<text transform="translate(527 1947) scale(1.2 1)" x="0 25 42" y="0">32<tspan class="o">1</tspan></text>
<text transform="translate(458 2030) scale(1.2 1)" x="-9 2 20 45" y="0"><tspan class="o">11</tspan>22</text>
<text transform="translate(853 2030) scale(1.2 1)" x="0 17 36" y="0">3<tspan class="o">1</tspan>4</text>
<text x="844" y="2144" textLength="88" lengthAdjust="spacingAndGlyphs">323</text>
<text x="488" y="2186" textLength="88" lengthAdjust="spacingAndGlyphs">369</text>
<text transform="translate(512 2248) scale(1.2 1)" x="-9 12 35 60" y="0"><tspan class="o">1</tspan>039</text>
<text x="773" y="2425" textLength="87" lengthAdjust="spacingAndGlyphs">390</text>
<text x="1355" y="2190" textLength="87" lengthAdjust="spacingAndGlyphs">336</text>
<text x="1335" y="2362" textLength="87" lengthAdjust="spacingAndGlyphs">378</text>
<text x="1363" y="2434" textLength="87" lengthAdjust="spacingAndGlyphs">354</text>
<text x="1377" y="2503" textLength="87" lengthAdjust="spacingAndGlyphs">324</text>
<text x="1388" y="2579" textLength="87" lengthAdjust="spacingAndGlyphs">327</text>
<text transform="translate(1333 2656) scale(1.2 1)" x="-9 12 35 60" y="0"><tspan class="o">1</tspan>039</text>
<text transform="translate(1070 2786) scale(1.2 1)" x="-9 2 13 32" y="0"><tspan class="o">111</tspan>3</text>
<text x="1388" y="2786" textLength="87" lengthAdjust="spacingAndGlyphs">388</text>
</g>

<!-- title table -->
<path d="M74,2982H860V3225" fill="none" stroke="#000" stroke-width="4"/>
<path d="M74,2982H860" stroke="#000" stroke-width="7"/>
<path d="M74,3033H860M74,3081H860M74,3128H860M74,3177H860" stroke="#000" stroke-width="7"/>
<path d="M377,2982V3225" stroke="#000" stroke-width="3"/>
<text class="b" x="92" y="3020" textLength="116" lengthAdjust="spacingAndGlyphs">MODEL</text>
<text class="b" x="88" y="3068" textLength="171" lengthAdjust="spacingAndGlyphs">PUB. NUM.</text>
<text class="b" x="88" y="3116" textLength="156" lengthAdjust="spacingAndGlyphs">REVISION</text>
<text class="b" x="86" y="3163" textLength="132" lengthAdjust="spacingAndGlyphs">STATUS</text>
<text class="b" x="86" y="3212" textLength="278" lengthAdjust="spacingAndGlyphs">CHANGE NOTICE</text>
<text class="v" x="397" y="3017" textLength="276" lengthAdjust="spacingAndGlyphs">GTW451BMR0WS</text>
<text class="v" x="397" y="3067" textLength="293" lengthAdjust="spacingAndGlyphs">PC-LAVA-030-0725</text>
<text class="v" x="397" y="3116">1</text>
<text class="v" x="397" y="3163" textLength="114" lengthAdjust="spacingAndGlyphs">In Work</text>
<text class="v" x="397" y="3212" textLength="210" lengthAdjust="spacingAndGlyphs">CN-CC-54656</text>

<!-- GE logo -->
<circle cx="2234" cy="3035" r="86" fill="none" stroke="#000" stroke-width="28"/>
<path d="M2218,2950Q2218,2968 2230,2971Q2240,2970 2248,2963L2225,2945z"/>
<path d="M2250,3120Q2250,3102 2238,3100Q2228,3100 2220,3107L2245,3125z"/>
<path d="M2317,3022Q2298,3020 2298,3030Q2300,3038 2307,3045L2312,3070L2325,3040z"/>
<path d="M2151,3048Q2170,3050 2170,3040Q2168,3032 2162,3025L2157,3000L2143,3030z"/>
<ellipse cx="2218" cy="2999" rx="20" ry="19"/>
<ellipse cx="2192" cy="3005" rx="10" ry="15"/>
<ellipse cx="2205" cy="3015" rx="14" ry="9"/>
<path d="M2218,3012L2230,3050" stroke="#000" stroke-width="18"/>
<ellipse cx="2203" cy="3066" rx="31" ry="19" transform="rotate(-42 2203 3066)"/>
<path d="M2211,3051Q2195,3063 2193,3072Q2198,3076 2205,3070Q2212,3060 2211,3051z" fill="#fff"/>
<ellipse cx="2263" cy="2997" rx="14" ry="20" transform="rotate(18 2263 2997)"/>
<path d="M2252,3005L2238,3032" stroke="#000" stroke-width="12"/>
<path d="M2200,3040L2240,3030" stroke="#000" stroke-width="9"/>
<path d="M2236,3025H2272" stroke="#000" stroke-width="15" stroke-linecap="round"/>
<ellipse cx="2262" cy="3060" rx="30" ry="29"/>
<ellipse cx="2262" cy="3056" rx="15" ry="18" fill="#fff"/>
<ellipse cx="2267" cy="3060" rx="10" ry="11"/>
<path d="M2255,3045Q2262,3040 2268,3046" fill="none" stroke="#fff" stroke-width="3"/>
<text x="2071" y="3187" font-family="Liberation Sans, sans-serif" font-size="42" font-weight="bold" textLength="337" lengthAdjust="spacingAndGlyphs">GE APPLIANCES</text>
</svg>
</body></html>
